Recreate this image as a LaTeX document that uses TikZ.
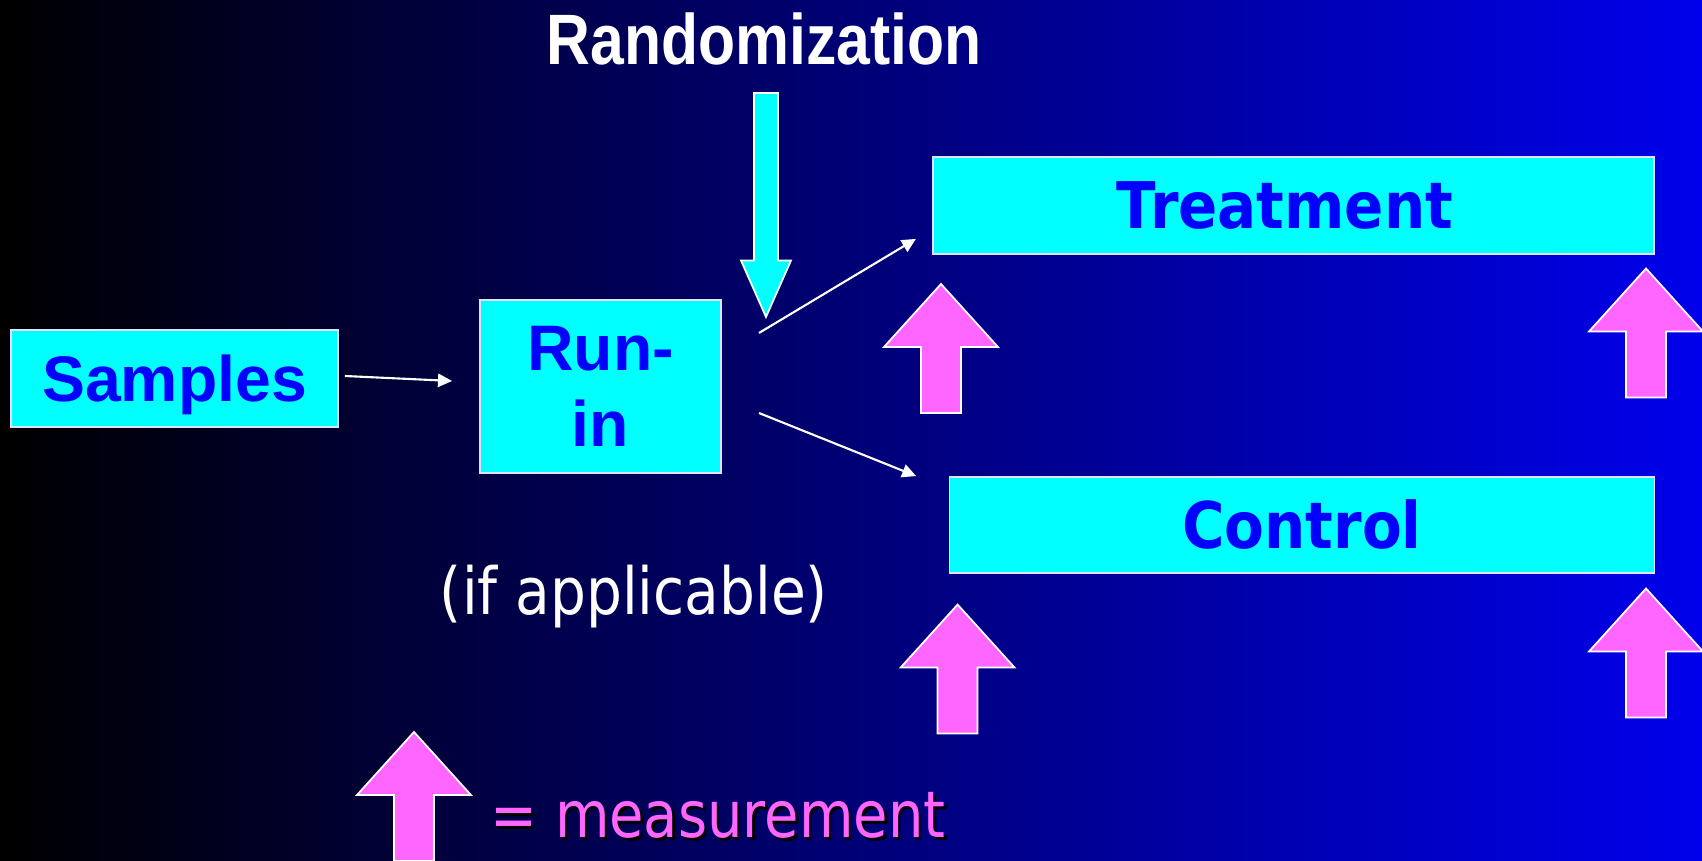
\documentclass[tikz,border=0pt]{standalone}
\usepackage{fontspec}
\usetikzlibrary{arrows.meta}
\newfontfamily\arialfont{Liberation Sans}
\newfontfamily\narrowfont[FakeStretch=0.85]{Liberation Sans}
\newfontfamily\tahomafont[FakeStretch=0.87]{DejaVu Sans}
\newfontfamily\tahomabold[FakeStretch=0.9]{DejaVu Sans Bold}
\definecolor{slideblue}{RGB}{0,0,235}
\definecolor{boxcyan}{RGB}{0,255,255}
\definecolor{boxtext}{RGB}{0,0,255}
\definecolor{measpink}{RGB}{255,102,255}
\definecolor{rimwhite}{RGB}{225,225,255}

\begin{document}
\begin{tikzpicture}[x=0.01cm,y=-0.01cm]
  \tikzstyle{box}=[rectangle, fill=boxcyan, draw=rimwhite, line width=0.5pt, text=boxtext, inner sep=0pt]
  \tikzstyle{onerow}=[text height=13.3pt, text depth=0pt]
  \tikzstyle{conn}=[white, line width=0.6pt, -{Triangle[length=4pt,width=3.8pt]}]
  \tikzset{measarrow/.pic={\draw[fill=measpink, draw=white, line width=0.5pt] (0,0) -- (57,63) -- (20,63) -- (20,129) -- (-20,129) -- (-20,63) -- (-57,63) -- cycle;}}

  \shade[left color=black, right color=slideblue] (0,0) rectangle (1702,861);
  \useasboundingbox (0,0) rectangle (1702,861);

  \node[anchor=base, text=white, font=\narrowfont\bfseries\fontsize{20.3}{24}\selectfont] (rand) at (764,65) {Randomization};

  \node[box, onerow, minimum width=3.27cm, minimum height=0.97cm, font=\arialfont\bfseries\fontsize{18.3}{22}\selectfont] (samples) at (174.5,378.5) {Samples};
  \node[box, minimum width=2.41cm, minimum height=1.73cm, align=center, font=\arialfont\bfseries\fontsize{18.3}{21.6}\selectfont] (runin) at (600.5,386.5) {Run-\\in};
  \node[box, onerow, minimum width=7.21cm, minimum height=0.97cm, font=\tahomabold\fontsize{18.3}{22}\selectfont] (treat) at (1293.5,205.5) {Treatment\kern0.17cm};
  \node[box, onerow, minimum width=7.045cm, minimum height=0.96cm, font=\tahomabold\fontsize{18.3}{22}\selectfont] (ctrl) at (1302,525) {Control};

  \node[anchor=base, text=white, font=\tahomafont\fontsize{18.5}{22}\selectfont] (note) at (634,615) {(if applicable)};

  \draw[fill=boxcyan, draw=white, line width=0.5pt] (754,93) -- (778,93) -- (778,260.5) -- (791,260.5) -- (766,317) -- (741,260.5) -- (754,260.5) -- cycle;

  \draw[conn] ([shift={(6,-2.5)}]samples.east) -- ([shift={(-27,-5.5)}]runin.west);
  \draw[conn] ([shift={(37,-53.5)}]runin.east) -- ([shift={(-16,-16)}]treat.south west);
  \draw[conn] ([shift={(37,26.5)}]runin.east) -- ([shift={(-32.5,0)}]ctrl.north west);

  \pic at (941,284) {measarrow};
  \pic at (1646,268.5) {measarrow};
  \pic at (957.6,604.6) {measarrow};
  \pic at (1646,588.5) {measarrow};
  \pic at (414,732) {measarrow};

  \node[anchor=base, text=black, font=\tahomafont\fontsize{18.3}{22}\selectfont] (measshadow) at (720.5,840.5) {= measurement};
  \node[anchor=base, text=measpink, font=\tahomafont\fontsize{18.3}{22}\selectfont] (meas) at (718,838) {= measurement};
\end{tikzpicture}
\end{document}
